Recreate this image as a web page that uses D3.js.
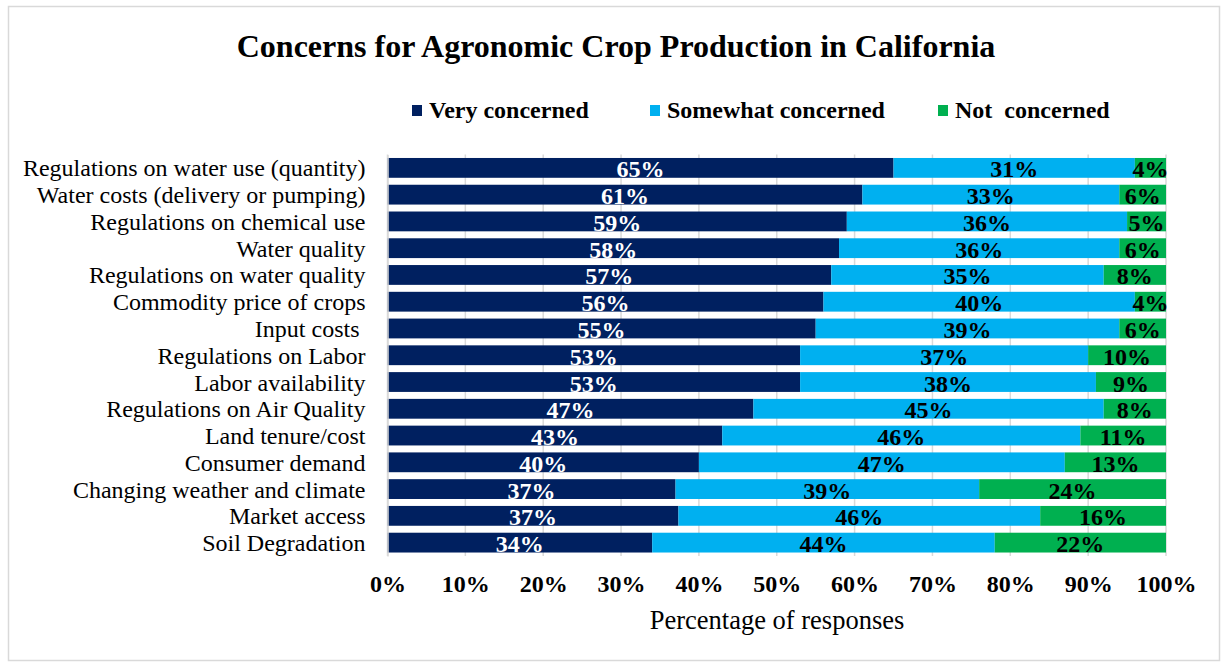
<!DOCTYPE html>
<html>
<head>
<meta charset="utf-8">
<script src="https://cdn.jsdelivr.net/npm/d3@7"></script>
<style>
  html, body { margin: 0; padding: 0; background: #fff; }
  svg { display: block; }
  text { font-family: "Liberation Serif", "Times New Roman", serif; }
</style>
</head>
<body>
<svg id="chart" width="1221" height="666"></svg>
<script>
// Survey concerns, top to bottom
const categories = [
  "Regulations on water use (quantity)",
  "Water costs (delivery or pumping)",
  "Regulations on chemical use",
  "Water quality",
  "Regulations on water quality",
  "Commodity price of crops",
  "Input costs ",
  "Regulations on Labor",
  "Labor availability",
  "Regulations on Air Quality",
  "Land tenure/cost",
  "Consumer demand",
  "Changing weather and climate",
  "Market access",
  "Soil Degradation"
];
const veryConcerned     = [65, 61, 59, 58, 57, 56, 55, 53, 53, 47, 43, 40, 37, 37, 34];
const somewhatConcerned = [31, 33, 36, 36, 35, 40, 39, 37, 38, 45, 46, 47, 39, 46, 44];
const notConcerned      = [ 4,  6,  5,  6,  8,  4,  6, 10,  9,  8, 11, 13, 24, 16, 22];
const seriesNames = ["Very concerned", "Somewhat concerned", "Not  concerned"];
const tickValues = [0, 0.1, 0.2, 0.3, 0.4, 0.5, 0.6, 0.7, 0.8, 0.9, 1.0];

const colors = ["#002060", "#00B0F0", "#00B050"];
const labelColors = ["#ffffff", "#000000", "#000000"];

const svg = d3.select("#chart");

// outer chart frame
svg.append("rect")
  .attr("x", 8.5).attr("y", 6.5)
  .attr("width", 1211).attr("height", 654)
  .attr("fill", "#fff").attr("stroke", "#d9d9d9").attr("stroke-width", 1.5);

// title
svg.append("text")
  .attr("x", 616).attr("y", 57)
  .attr("text-anchor", "middle")
  .attr("font-size", 32).attr("font-weight", "bold")
  .text("Concerns for Agronomic Crop Production in California");

const x = d3.scaleLinear().domain([0, 1]).range([387.5, 1166]);
const y = d3.scaleBand().domain(categories).range([154.5, 556]).paddingInner(0.26).paddingOuter(0.13);

// rows as 100% stacked shares
const rows = categories.map((c, i) => {
  const vals = [veryConcerned[i], somewhatConcerned[i], notConcerned[i]];
  const total = d3.sum(vals);
  let acc = 0;
  return vals.map((v, k) => {
    const seg = { cat: c, k, value: v, x0: acc / total, x1: (acc + v) / total };
    acc += v;
    return seg;
  });
});

// gridlines
svg.append("g")
  .selectAll("line")
  .data(tickValues)
  .join("line")
  .attr("x1", d => x(d)).attr("x2", d => x(d))
  .attr("y1", 154.5).attr("y2", 556)
  .attr("stroke", "#d9d9d9").attr("stroke-width", 1.5);

// bars
const segs = rows.flat();
svg.append("g")
  .selectAll("rect")
  .data(segs)
  .join("rect")
  .attr("x", d => x(d.x0))
  .attr("width", d => x(d.x1) - x(d.x0))
  .attr("y", d => y(d.cat))
  .attr("height", y.bandwidth())
  .attr("fill", d => colors[d.k]);

// value labels
svg.append("g")
  .selectAll("text")
  .data(segs)
  .join("text")
  .attr("x", d => (x(d.x0) + x(d.x1)) / 2)
  .attr("y", d => y(d.cat) + y.bandwidth() / 2 + 9.5)
  .attr("text-anchor", "middle")
  .attr("font-size", 24).attr("font-weight", "bold")
  .attr("fill", d => labelColors[d.k])
  .text(d => d.value + "%");

// category axis
const yAxis = svg.append("g")
  .attr("transform", "translate(387.5,0)")
  .call(d3.axisLeft(y).tickSize(0).tickPadding(22));
yAxis.select(".domain").attr("stroke", "#d9d9d9").attr("stroke-width", 1.5);
yAxis.selectAll("text")
  .attr("font-family", "Liberation Serif, Times New Roman, serif")
  .attr("font-size", 24).attr("fill", "#000")
  .attr("dy", null)
  .attr("y", 8.5)
  .attr("xml:space", "preserve");

// value axis
const xAxis = svg.append("g")
  .attr("transform", "translate(0,556)")
  .call(d3.axisBottom(x).tickValues(tickValues).tickFormat(d3.format(".0%")).tickSize(0).tickPadding(0));
xAxis.select(".domain").remove();
xAxis.selectAll("text")
  .attr("font-family", "Liberation Serif, Times New Roman, serif")
  .attr("font-size", 24).attr("font-weight", "bold").attr("fill", "#000")
  .attr("dy", null).attr("y", 36);

// axis title
svg.append("text")
  .attr("x", 777).attr("y", 629)
  .attr("text-anchor", "middle")
  .attr("font-size", 26.5)
  .text("Percentage of responses");

// legend
const legendX = [412, 650, 938];
const legend = svg.append("g")
  .selectAll("g")
  .data(seriesNames)
  .join("g")
  .attr("transform", (d, i) => `translate(${legendX[i]},0)`);
legend.append("rect")
  .attr("x", 0).attr("y", 105).attr("width", 10).attr("height", 11)
  .attr("fill", (d, i) => colors[i]);
legend.append("text")
  .attr("x", 17).attr("y", 118)
  .attr("font-size", 24).attr("font-weight", "bold")
  .attr("xml:space", "preserve")
  .text(d => d);
</script>
</body>
</html>
